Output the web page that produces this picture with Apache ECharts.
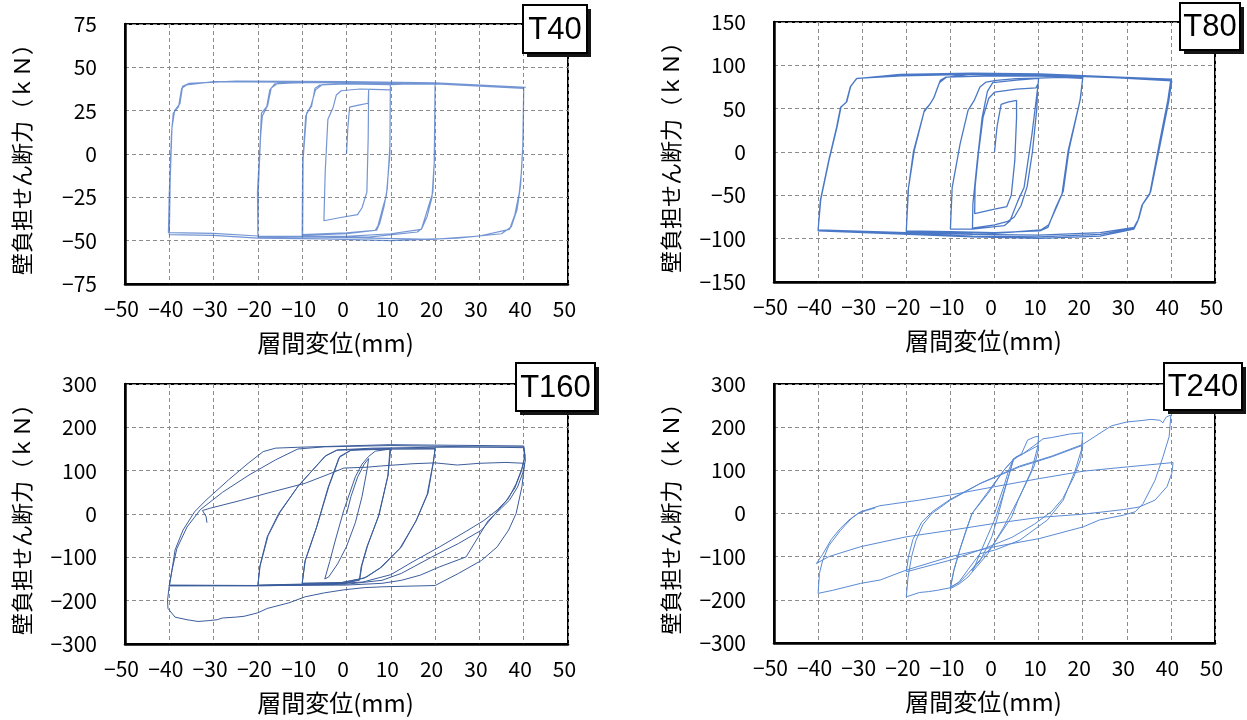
<!DOCTYPE html>
<html>
<head>
<meta charset="utf-8">
<script src="https://cdn.jsdelivr.net/npm/echarts@6/dist/echarts.min.js"></script>
<style>
html,body{margin:0;padding:0;background:#fff;}
#chart{width:1247px;height:720px;}
</style>
</head>
<body>
<div id="chart"></div>
<script>
// ---------- labels ----------
const panelTitles = ['T40', 'T80', 'T160', 'T240'];
const xName = '層間変位(mm)';
const yName = '壁負担せん断力（ｋＮ）';
const xTicks = { min: -50, max: 50, interval: 10 };
const yTicks40 = { min: -75, max: 75, interval: 25 };
const yTicks80 = { min: -150, max: 150, interval: 50 };
const yTicks160 = { min: -300, max: 300, interval: 100 };
const yTicks240 = { min: -300, max: 300, interval: 100 };

// ---------- T40 [displacement mm, shear kN] ----------
const t40_c1 = [[0,0],[0.3,15],[0.7,27],[3,28.3],[4.9,29.3],[5,37],[4.9,10],[4.6,-22],[3.5,-31],[2.5,-35],[-1,-36.5],[-5.1,-38.5],[-4.8,-10],[-4.2,20],[-3,27],[-2.3,34],[-1.2,36.5],[3,37.5],[6,37.3],[9.9,37]];
const t40_c2 = [[9.9,37],[9.8,0],[9.0,-24],[8.3,-30],[7.1,-41.5],[6.5,-44],[0,-45.5],[-9.9,-46.5],[-9.8,-3],[-9,23.6],[-7.9,27.4],[-7.1,38],[-6,39.8],[0,40.5],[9.9,40],[9.8,5],[9.2,-20],[8.5,-30],[7.5,-40],[6.8,-44],[0,-46],[-10,-47],[-9.9,-5],[-9.2,22],[-8,28],[-7,37],[-5.5,40],[2,40.8],[10,40]];
const t40_c3 = [[10,40],[14,40.5],[20,40.3],[19.9,0],[19.5,-22],[17.6,-37.7],[16.9,-43.5],[10,-46],[0,-47.5],[-10,-47.5],[-20,-47.3],[-20.1,-22],[-19.5,6.3],[-19.2,23.6],[-18,27.4],[-17.3,37],[-16.2,40.4],[-10,41.3],[0,41],[10,40.8],[20,40.4],[19.8,-5],[19.3,-25],[18.2,-36],[17,-43],[16,-45],[5,-48],[-10,-48],[-20,-47.8],[-19.9,-20],[-19.4,10],[-19,22],[-17.8,28],[-17,38],[-15.5,40.8]];
const t40_c4 = [[-15.5,40.8],[-5,41.5],[10,41],[20,40.5],[30,39.5],[40,38],[39.9,10],[39.5,-10],[39,-22.4],[38,-35],[36.8,-43.5],[30,-47.3],[19.5,-49.2],[0,-48.3],[-20,-47.3],[-30,-45.8],[-40.2,-45.4],[-40,-22.4],[-39.5,12],[-39.1,23.6],[-37.9,27.4],[-37.2,38],[-36.1,39.8],[-30,41.8],[-15,41.5],[0,41.2],[20.3,40.4],[40,37.9],[39.8,5],[39.3,-18],[38.5,-32],[37.2,-42],[35,-46],[25,-48.5],[10,-50],[-5,-49],[-20,-48.5],[-30,-47],[-40,-46.5],[-39.8,-15],[-39.4,15],[-38.8,25],[-37.6,29],[-37,39],[-35.5,40.8],[-25,42],[0,41.8],[20,41],[40.5,38.5]];

// ---------- T80 ----------
const t80_c1 = [[0,0],[0.6,30],[1.5,55],[3,57.5],[5,59.5],[5,40],[4.6,-10],[3.8,-50],[2.8,-63],[0,-66],[-4.5,-71],[-4.4,-40],[-3.6,0],[-2.6,40],[-1.3,62],[0,69],[5,72.5],[9.4,74],[9.8,78]];
const t80_c2 = [[9.8,78],[9.6,50],[8.6,0],[7.4,-40],[6,-62],[4.5,-75],[3,-80],[0,-84],[-5,-88],[-4.9,-60],[-3.9,-10],[-2.8,40],[-1.6,70],[-0.4,80],[5,83],[10,85],[9.9,78.8],[8.5,20.8],[6.7,-41],[5.3,-56.4],[3.5,-79.5],[2.2,-85],[-5,-89],[-10,-89],[-9.6,-41],[-7.8,9.3],[-6,48],[-4.6,59.5],[-3.3,75],[-1.9,80.7],[0.4,82.6],[4.9,84.6],[10,85.3]];
const t80_c3 = [[10,85.3],[15,86],[20,85],[19.4,59.5],[16.7,1.5],[15.3,-48.6],[13.9,-64],[12.1,-87],[10.3,-91],[0,-93],[-10,-92],[-20,-91],[-19.5,-41],[-18.2,1.5],[-15.9,48],[-14.6,55.6],[-13.7,63],[-12.3,82.6],[-11,86.5],[0,88],[10,87.5],[20,86],[19.5,62],[16.9,3],[15.6,-45],[14.2,-62],[12.3,-84],[10.5,-90],[0,-94],[-10,-93],[-20,-92],[-19.6,-45],[-18.4,0],[-16,46],[-14.8,54],[-13.8,62],[-12.5,80],[-11,86]];
const t80_c4 = [[-11,86],[-5,90],[10,90],[28.4,86.5],[40,83.4],[39.3,59.5],[37.5,13],[35.2,-48.6],[33.4,-62],[32.5,-79.5],[31.6,-89],[23.9,-97],[10.3,-99.6],[-5,-98],[-19.5,-95],[-40,-91],[-39.5,-56],[-37.6,-10],[-35.8,28.6],[-34.9,51.7],[-33.6,57.5],[-32.7,75],[-31.3,84.6],[-21.4,89.6],[-5,91],[10.3,90],[28.4,86.5],[40,84],[39.4,60],[37.6,14],[35.3,-47],[33.5,-61],[32.6,-78],[31.5,-88],[24,-95],[10,-98],[-5,-97],[-20,-94],[-40,-90],[-39.4,-55],[-37.5,-9],[-35.7,29],[-34.8,52],[-33.5,58],[-32.6,76],[-31.2,85],[-21,88],[-5,89.5],[10,89],[28,85.5],[40.2,82],[39.5,58],[37.7,12],[35.4,-46],[33.6,-60],[32.7,-77],[31.7,-87],[24,-93],[10,-96],[-5,-95],[-20,-93],[-40,-90]];

// ---------- T160 ----------
const t160_c1 = [[0,0],[1,40],[2.5,85],[4,115],[5,128],[4.6,100],[3.5,40],[2,-20],[0,-75],[-2,-115],[-4,-145],[-4.9,-150],[-3.8,-110],[-2.5,-60],[-0.6,9],[2,86],[3.5,115],[5,133]];
const t160_c2 = [[5,133],[6.5,145],[10,150],[9.3,86],[7.2,-6],[4.6,-76],[3.3,-122],[2.9,-153],[-0.6,-159],[-10,-160],[-9.3,-107],[-6.7,-29],[-4,63],[-1.5,133],[1.1,148],[6,150],[9.8,151],[9.4,90],[7.4,0],[4.8,-72],[3.5,-118],[3,-150],[-1,-158],[-10,-160],[-9.4,-110],[-6.8,-32],[-4.2,60],[-1.7,130],[1,147],[10,150]];
const t160_c3 = [[10,150],[20,150],[19.7,125],[18.4,48],[15.8,-14],[12.4,-76],[8,-122],[4.6,-145],[0,-160],[-10,-163],[-20,-165],[-19.6,-122],[-17.9,-52.5],[-15.3,1.5],[-11,63],[-4.9,133],[-2.3,147],[6.3,150],[20,151],[19.6,120],[18.2,45],[15.6,-18],[12,-80],[7.5,-125],[4,-148],[-2,-160],[-20,-164],[-19.5,-120],[-17.7,-50],[-15,4],[-10.8,66],[-4.6,135],[-2,148],[6,152]];
const t160_c4 = [[6,152],[20,154],[40,155],[40.2,130],[39.5,100],[38,60],[36,30],[34,9],[31,-15],[27,-40],[21,-76],[15,-110],[10,-140],[3.7,-157],[-4.9,-162],[-20,-165],[-40,-166],[-39.5,-137],[-38.7,-83],[-36.9,-37],[-34.3,5],[-31.7,32],[-26.6,79],[-22.2,117],[-18.8,144],[-16,152],[-11,154],[9.8,160],[40,157],[40.3,135],[39.6,105],[38.3,70],[36.5,35],[34.5,12],[30.5,-37],[25.3,-68],[19.3,-99],[12.4,-137],[8,-153],[0,-162],[-20,-166],[-40,-165],[-39.4,-130],[-38.3,-80],[-36,-30],[-33,10],[-28,50],[-22,90],[-16,125],[-11,150],[-5,155],[10,158],[40,153],[40.4,125],[39.8,95],[38.6,62],[36.8,32],[35,14],[32,-15],[27,-99],[21,-122],[16.7,-141],[12.4,-153],[8,-160],[0,-164],[-20,-165],[-40,-164]];
const t160_c5 = [[-40,-164],[-40.4,-200],[-40.3,-218],[-38.7,-238],[-36,-244],[-33.5,-248],[-31,-246],[-29.2,-244],[-28,-240],[-25,-238],[-23.1,-236],[-20,-228],[-17.9,-218],[-13,-205],[-9.3,-191],[-5,-182],[-0.6,-175],[4,-170],[8,-168],[20,-165],[25.3,-137],[30.5,-107],[34,-76],[36.6,-37],[38.3,1.5],[39.6,63],[40.2,117],[36,119],[30,117],[25,113],[20,118],[15,116],[8,111],[4.6,108],[-0.6,106],[-4,92],[-9.3,71],[-17.9,48],[-24,31],[-30.9,13],[-32.5,8],[-31.7,-6],[-31.5,-20]];

// ---------- T240 ----------
const t240_c1 = [[0,0],[1,30],[2.1,62],[3.2,100],[4.3,127],[3.4,93],[1.8,40],[0.3,-8],[-1.5,-50],[-3.3,-93],[-4.3,-118],[-5.1,-133],[-4.2,-120],[-3.3,-110],[-1.8,-80],[-0.6,-54],[0.8,-5],[2.1,46],[3.3,90],[4.3,124],[5.2,131]];
const t240_c2 = [[5.2,131],[6.2,140],[7.5,170],[9,177],[10,179],[9.8,154],[8.4,100],[5.7,39],[2.1,-31],[-1.5,-93],[-6,-147],[-8,-163],[-10,-174],[-9.2,-131],[-7.9,-85],[-6.5,-40],[-5.1,0],[-1.5,46],[2.1,100],[4.8,131],[6.6,139],[10,158],[9.8,140],[9,110],[7.5,77],[5.5,35],[3.9,-8],[-0.6,-77],[-3.5,-110],[-6,-139],[-8,-160],[-10,-170]];
const t240_c3 = [[-10,-170],[-9.2,-131],[-7.9,-85],[-5.1,0],[-1.5,50],[2.1,100],[4.5,128],[6,135],[8,150],[10,165],[11,173],[13,176],[15,180],[17,184],[20,187],[19.7,147],[18.3,100],[15.6,31],[12,-15],[5.7,-62],[0,-85],[-3.3,-93],[-6,-130],[-8,-158],[-10,-172],[-13,-178],[-15,-181],[-17,-183],[-20,-193],[-19.6,-147],[-18.8,-100],[-17.8,-62],[-16.2,-25],[-14.2,0],[-10,31],[-3.3,69],[5.7,108],[12.9,131],[20,158],[19.5,125],[18,85],[15.5,35],[13,5],[9,-25],[4,-55],[-2,-80],[-10,-108],[-20,-135]];
const t240_c4 = [[-20,-135],[-19.5,-100],[-18.5,-60],[-16.5,-20],[-14,5],[-10,33],[-3,71],[5.7,110],[13,133],[20,160],[23,180],[26.5,203],[30,212],[33,215],[35.5,218],[37.5,216],[38.2,210],[38.6,218],[39,224],[40,228],[40.3,230],[39.6,178],[38.2,131],[36.4,77],[33.7,23],[31.9,4],[29.2,-4],[23.8,-15],[20.1,-31],[10.2,-58],[0,-77],[-10,-100],[-20,-131],[-25.9,-154],[-30.4,-162],[-36.7,-178],[-40,-185]];
const t240_c5 = [[-40,-185],[-39.7,-139],[-39,-110],[-37.6,-75],[-35,-40],[-32.5,-12],[-30.4,4],[-26,18],[-17,31],[-10,43],[0,62],[10.2,81],[20.1,98],[30.1,108],[40.5,118],[40.2,93],[39.1,62],[36.4,31],[32.8,15],[29.2,9],[20.1,-1.5],[10.2,-9],[0,-23],[-10,-39],[-20,-54],[-30.4,-77],[-37.6,-100],[-40.4,-116],[-39,-95],[-37,-60],[-35,-35],[-33,-15],[-31,0],[-29,7],[-27,13]];

const t40Data = [].concat(t40_c1, t40_c2, t40_c3, t40_c4);
const t80Data = [].concat(t80_c1, t80_c2, t80_c3, t80_c4);
const t160Data = [].concat(t160_c1, t160_c2, t160_c3, t160_c4, t160_c5);
const t240Data = [].concat(t240_c1, t240_c2, t240_c3, t240_c4, t240_c5);

// ---------- layout ----------
const grids = [
  { left: 125, top: 24, width: 443, height: 260 },
  { left: 774, top: 22, width: 441, height: 260 },
  { left: 125, top: 384, width: 443, height: 260 },
  { left: 774, top: 384, width: 441, height: 259 }
];
// label boxes: [left, top, width, height]
const titleBoxes = [
  [523, 5, 64, 48],
  [1180, 3, 60, 47],
  [516, 363, 79, 48],
  [1164, 363, 78, 47]
];
const yTickSets = [yTicks40, yTicks80, yTicks160, yTicks240];
const seriesData = [t40Data, t80Data, t160Data, t240Data];
const lineColors = ['rgba(68,114,196,0.75)', '#4a78c6', '#3c5d9c', '#5a8ad4'];
const lineWidths = [1.2, 1.3, 1.0, 1.0];

const cjk = '"Noto Sans CJK JP", "Noto Sans", sans-serif';
const fmt = v => (v < 0 ? '\u2212' + Math.abs(v) : String(v));

const graphics = [];
titleBoxes.forEach((b, i) => {
  graphics.push({ type: 'rect', z: 100, shape: { x: b[0] + 4, y: b[1] + 4, width: b[2], height: b[3] }, style: { fill: '#151515' } });
  graphics.push({ type: 'rect', z: 101, shape: { x: b[0], y: b[1], width: b[2], height: b[3] }, style: { fill: '#fff', stroke: '#000', lineWidth: 2 } });
  graphics.push({ type: 'text', z: 102, x: b[0] + b[2] / 2, y: b[1] + b[3] / 2 + 1,
    style: { text: panelTitles[i], fontSize: 31, fontFamily: '"Liberation Sans", Arial, sans-serif', fill: '#000', textAlign: 'center', textVerticalAlign: 'middle', align: 'center', verticalAlign: 'middle' } });
});

const chart = echarts.init(document.getElementById('chart'), null, { renderer: 'canvas' });
const option = {
  animation: false,
  backgroundColor: '#fff',
  graphic: graphics,
  grid: grids.map(g => Object.assign({ show: true, borderColor: '#000', borderWidth: 2, backgroundColor: 'transparent' }, g)),
  xAxis: grids.map((g, i) => ({
    type: 'value', gridIndex: i,
    min: xTicks.min, max: xTicks.max, interval: xTicks.interval,
    name: xName, nameLocation: 'middle', nameGap: 47,
    nameTextStyle: { fontFamily: cjk, fontSize: 24, color: '#000', padding: [0, 22, 0, 0] },
    axisLine: { onZero: false, lineStyle: { color: '#000', width: 2.5 } },
    axisTick: { show: false },
    axisLabel: { formatter: fmt, fontFamily: cjk, fontSize: 21, color: '#000', margin: 15, padding: [0, 7, 0, 0] },
    splitLine: { show: true, lineStyle: { color: '#8c8c8c', type: [4, 3], width: 1 } }
  })),
  yAxis: grids.map((g, i) => ({
    type: 'value', gridIndex: i,
    min: yTickSets[i].min, max: yTickSets[i].max, interval: yTickSets[i].interval,
    name: yName, nameLocation: 'middle', nameGap: 92,
    nameTextStyle: { fontFamily: cjk, fontSize: 22, color: '#000' },
    axisLine: { onZero: false, lineStyle: { color: '#000', width: 2.5 } },
    axisTick: { show: false },
    axisLabel: { formatter: fmt, fontFamily: cjk, fontSize: 21, color: '#000', margin: 28 },
    splitLine: { show: true, lineStyle: { color: '#8c8c8c', type: [4, 3], width: 1 } }
  })),
  series: seriesData.map((d, i) => ({
    type: 'line', xAxisIndex: i, yAxisIndex: i,
    data: d, showSymbol: false, symbol: 'none', smooth: false,
    lineStyle: { color: lineColors[i], width: lineWidths[i] },
    z: 3
  }))
};
chart.setOption(option);
</script>
</body>
</html>
